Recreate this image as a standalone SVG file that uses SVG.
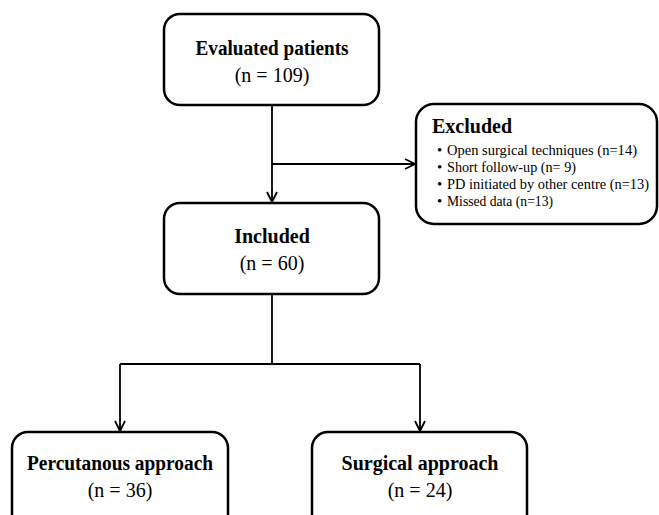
<svg xmlns="http://www.w3.org/2000/svg" width="659" height="515" viewBox="0 0 659 515">
<style>
.box{fill:#fff;stroke:#000;stroke-width:2.5}
.t{font-family:"Liberation Serif","Times New Roman",serif;fill:#000}
.b{font-weight:bold;font-size:20px}
.n{font-size:20px}
.s{font-size:15px}
.ln{fill:none;stroke:#000;stroke-width:1.8}
</style>
<defs>
<marker id="arr" viewBox="0 0 12 12" refX="11" refY="6" markerWidth="12" markerHeight="12" markerUnits="userSpaceOnUse" orient="auto">
<path d="M1,1 L11,6 L1,11" fill="none" stroke="#000" stroke-width="1.8"/>
</marker>
</defs>
<rect width="659" height="515" fill="#fff"/>
<g id="connectors">
<path class="ln" d="M272,105 V202" marker-end="url(#arr)"/>
<path class="ln" d="M272,164 H415" marker-end="url(#arr)"/>
<path class="ln" d="M272,295 V364"/>
<path class="ln" d="M120,364 H420"/>
<path class="ln" d="M120,364 V431" marker-end="url(#arr)"/>
<path class="ln" d="M420,364 V431" marker-end="url(#arr)"/>
</g>
<g id="evaluated">
<rect class="box" x="164" y="14" width="215" height="91" rx="16"/>
<text class="t b" x="272" y="55" text-anchor="middle" textLength="153" lengthAdjust="spacingAndGlyphs">Evaluated patients</text>
<text class="t n" x="272" y="82" text-anchor="middle">(n = 109)</text>
</g>
<g id="excluded">
<rect class="box" x="416" y="104" width="241" height="120" rx="18"/>
<text class="t b" x="432" y="133">Excluded</text>
<g class="t s">
<text x="437" y="155">•</text><text x="447" y="155" textLength="190" lengthAdjust="spacingAndGlyphs">Open surgical techniques (n=14)</text>
<text x="437" y="172">•</text><text x="447" y="172" textLength="129" lengthAdjust="spacingAndGlyphs">Short follow-up (n= 9)</text>
<text x="437" y="189">•</text><text x="447" y="189" textLength="202" lengthAdjust="spacingAndGlyphs">PD initiated by other centre (n=13)</text>
<text x="437" y="206">•</text><text x="447" y="206" textLength="106" lengthAdjust="spacingAndGlyphs">Missed data (n=13)</text>
</g>
</g>
<g id="included">
<rect class="box" x="164" y="203" width="215" height="91" rx="16"/>
<text class="t b" x="272" y="243" text-anchor="middle">Included</text>
<text class="t n" x="272" y="270" text-anchor="middle">(n = 60)</text>
</g>
<g id="percutanous">
<rect class="box" x="12" y="432" width="216" height="100" rx="16"/>
<text class="t b" x="120" y="470" text-anchor="middle" textLength="186" lengthAdjust="spacingAndGlyphs">Percutanous approach</text>
<text class="t n" x="120" y="497" text-anchor="middle">(n = 36)</text>
</g>
<g id="surgical">
<rect class="box" x="312" y="432" width="215" height="100" rx="16"/>
<text class="t b" x="420" y="470" text-anchor="middle">Surgical approach</text>
<text class="t n" x="420" y="497" text-anchor="middle">(n = 24)</text>
</g>
</svg>
